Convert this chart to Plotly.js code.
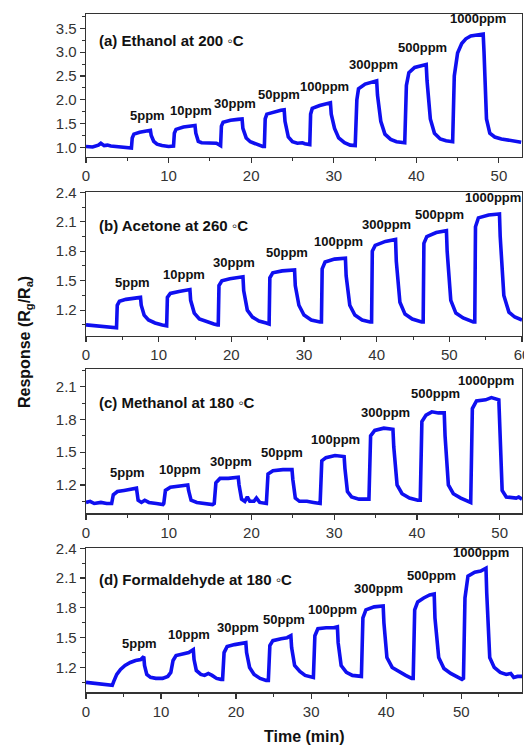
<!DOCTYPE html>
<html>
<head>
<meta charset="utf-8">
<script src="https://cdn.plot.ly/plotly-3.0.1.min.js"></script>
<style>html,body{margin:0;padding:0;background:#fff;}#chart{width:524px;height:746px;}</style>
</head>
<body>
<div id="chart"></div>
<script>
// ---- Data ----
const concLabels = ["5ppm","10ppm","30ppm","50ppm","100ppm","300ppm","500ppm","1000ppm"];
const panelTitles = ["(a) Ethanol at 200 \u25E6C","(b) Acetone at 260 \u25E6C","(c) Methanol at 180 \u25E6C","(d) Formaldehyde at 180 \u25E6C"];

// (a) Ethanol
const timeA = [0,0.8,1.5,1.8,2.2,2.6,3.0,4.0,5.0,5.5,5.6,5.8,6.5,7.3,7.8,7.9,8.2,8.6,9.2,10.0,10.6,10.7,10.9,11.8,12.7,13.2,13.3,13.6,14.0,15.0,15.8,16.3,16.4,16.6,17.5,18.4,18.9,19.0,19.4,19.9,20.6,21.4,21.6,21.7,21.9,22.8,23.6,24.0,24.1,24.5,25.0,25.6,26.2,26.5,26.9,27.1,27.2,27.4,28.3,29.2,29.6,29.7,30.1,30.6,31.3,32.0,32.5,32.6,32.8,33.0,33.8,34.6,35.2,35.3,35.7,36.2,36.9,37.6,38.4,38.6,38.8,39.1,39.8,40.6,41.2,41.3,41.7,42.2,42.9,43.6,44.3,44.4,44.6,45.0,45.5,46.0,46.6,47.4,48.1,48.2,48.5,48.9,49.5,50.3,51.2,52.0,52.7];
const respA = [1.02,1.01,1.05,1.09,1.04,1.05,1.03,1.02,1.00,0.99,1.20,1.28,1.32,1.35,1.36,1.25,1.13,1.07,1.04,1.02,1.03,1.30,1.38,1.43,1.45,1.46,1.30,1.13,1.10,1.10,1.09,1.04,1.45,1.53,1.57,1.59,1.60,1.40,1.20,1.12,1.07,1.02,1.02,1.60,1.70,1.75,1.78,1.79,1.55,1.22,1.12,1.09,1.10,1.08,1.06,1.06,1.70,1.82,1.88,1.92,1.94,1.70,1.40,1.20,1.10,1.05,1.04,1.04,2.00,2.23,2.33,2.38,2.40,2.10,1.55,1.28,1.17,1.12,1.10,1.10,2.30,2.57,2.68,2.72,2.74,2.40,1.60,1.30,1.18,1.14,1.12,1.12,2.50,2.98,3.18,3.28,3.34,3.36,3.38,3.00,1.60,1.30,1.22,1.18,1.15,1.13,1.11];
const labelTimeA = [7.5,12.7,18.0,23.4,28.9,34.8,40.8,47.5];
const labelRespA = [1.47,1.58,1.72,1.91,2.09,2.55,2.89,3.51];

// (b) Acetone
const timeB = [0,1.5,3.0,4.1,4.2,4.3,4.6,5.5,6.7,7.5,7.6,8.0,8.6,9.5,10.5,11.0,11.1,11.2,11.6,12.8,14.3,14.4,14.9,15.6,16.6,17.6,18.1,18.2,18.3,18.7,19.8,21.6,21.7,22.2,22.9,23.8,24.8,25.1,25.2,25.3,25.7,27.0,28.7,28.8,29.3,30.0,31.0,32.2,32.4,32.5,32.9,34.2,35.7,35.8,36.3,37.0,38.0,39.1,39.3,39.4,39.8,41.2,42.6,42.7,43.2,43.9,44.9,46.2,46.4,46.5,46.9,48.2,49.6,49.7,50.2,50.9,51.9,53.3,53.5,53.6,54.0,55.4,56.9,57.0,57.5,58.2,59.0,60.0];
const respB = [1.05,1.04,1.03,1.02,1.02,1.25,1.29,1.31,1.32,1.33,1.25,1.15,1.10,1.07,1.05,1.04,1.04,1.33,1.37,1.39,1.41,1.30,1.17,1.11,1.08,1.06,1.05,1.05,1.45,1.50,1.52,1.54,1.40,1.20,1.13,1.09,1.07,1.06,1.06,1.53,1.58,1.60,1.61,1.45,1.25,1.15,1.10,1.08,1.08,1.62,1.69,1.72,1.73,1.55,1.25,1.15,1.10,1.08,1.08,1.80,1.86,1.90,1.92,1.70,1.28,1.16,1.11,1.08,1.08,1.88,1.95,1.99,2.01,1.80,1.30,1.17,1.12,1.08,1.08,2.05,2.14,2.17,2.18,1.95,1.35,1.18,1.13,1.10];
const labelTimeB = [6.45,13.5,20.4,27.6,34.7,41.3,48.6,56.0];
const labelRespB = [1.39,1.465,1.59,1.69,1.80,1.98,2.08,2.25];

// (c) Methanol
const timeC = [0,0.5,1.0,1.8,2.5,3.0,3.1,3.3,3.8,4.6,5.3,6.0,6.1,6.3,6.7,7.1,7.6,8.5,9.3,9.4,9.6,10.2,11.2,12.3,12.4,12.7,13.4,14.4,15.3,15.5,15.7,16.2,17.2,18.4,18.5,18.8,19.2,19.5,19.8,20.3,20.6,21.0,21.6,21.8,22.0,22.6,23.8,24.9,25.0,25.3,25.8,26.7,27.5,28.2,28.3,28.5,29.0,30.1,31.2,31.3,31.6,32.1,33.0,33.9,34.2,34.4,34.9,36.0,37.1,37.2,37.6,38.2,39.1,40.1,40.4,40.6,41.1,41.8,42.6,43.3,43.4,43.8,44.4,45.3,46.3,46.5,46.7,47.2,48.3,49.0,49.9,50.0,50.3,50.8,51.5,52.0,52.3,52.7];
const respC = [1.04,1.05,1.03,1.04,1.03,1.03,1.03,1.11,1.14,1.15,1.16,1.17,1.17,1.06,1.04,1.06,1.04,1.03,1.02,1.03,1.15,1.18,1.19,1.20,1.15,1.06,1.04,1.03,1.02,1.03,1.22,1.26,1.26,1.27,1.20,1.07,1.05,1.09,1.05,1.05,1.08,1.04,1.03,1.03,1.30,1.33,1.34,1.34,1.25,1.08,1.05,1.05,1.04,1.03,1.03,1.42,1.45,1.47,1.46,1.35,1.14,1.09,1.07,1.07,1.07,1.65,1.70,1.72,1.71,1.55,1.20,1.12,1.08,1.06,1.06,1.78,1.84,1.87,1.86,1.86,1.65,1.20,1.12,1.08,1.05,1.04,1.90,1.97,1.98,2.00,1.98,1.80,1.15,1.09,1.08,1.08,1.09,1.07];
const labelTimeC = [5.07,11.35,17.5,23.7,30.2,36.15,42.3,48.4];
const labelRespC = [1.225,1.255,1.33,1.41,1.53,1.78,1.95,2.07];

// (d) Formaldehyde
const timeD = [0,1.0,2.0,3.0,3.5,3.7,4.1,4.6,5.2,5.9,6.6,7.3,7.7,7.8,8.1,8.6,9.3,10.2,10.9,11.3,11.6,12.0,12.8,13.7,14.3,14.4,14.7,15.3,15.8,16.3,16.8,17.4,18.0,18.2,18.4,18.8,19.8,20.8,21.3,21.4,21.8,22.4,23.2,24.0,24.3,24.5,24.9,26.0,26.8,27.3,27.4,27.8,28.5,29.2,30.0,30.3,30.5,30.9,32.0,33.0,33.5,33.6,34.0,34.7,35.5,36.5,36.7,36.9,37.3,38.4,39.6,39.7,40.1,40.8,41.8,42.6,43.4,43.6,43.8,44.2,45.0,45.8,46.4,46.5,47.0,47.7,48.6,49.5,50.1,50.3,50.5,50.9,51.8,52.6,53.3,53.4,53.8,54.4,55.2,56.0,56.6,57.0,57.5,58.1];
const respD = [1.05,1.04,1.03,1.02,1.02,1.06,1.13,1.18,1.22,1.25,1.27,1.28,1.31,1.22,1.13,1.10,1.09,1.09,1.11,1.15,1.27,1.32,1.33,1.35,1.38,1.28,1.17,1.13,1.12,1.14,1.12,1.09,1.08,1.08,1.35,1.41,1.43,1.44,1.45,1.35,1.20,1.13,1.09,1.07,1.07,1.42,1.47,1.49,1.50,1.52,1.40,1.22,1.16,1.12,1.10,1.10,1.52,1.59,1.60,1.60,1.61,1.45,1.22,1.15,1.12,1.11,1.11,1.70,1.78,1.81,1.82,1.65,1.30,1.20,1.15,1.12,1.09,1.09,1.78,1.86,1.90,1.93,1.94,1.70,1.30,1.19,1.14,1.10,1.08,1.09,1.90,2.12,2.16,2.17,2.20,1.95,1.30,1.20,1.15,1.13,1.14,1.10,1.11,1.11];
const labelTimeD = [7.13,13.7,20.3,26.4,32.8,39.0,46.1,52.7];
const labelRespD = [1.345,1.435,1.51,1.585,1.69,1.90,2.03,2.26];

// ---- Layout helpers ----
const FONT = "Liberation Sans, Arial, Helvetica, sans-serif";
const AX = "#333";
const LINE = "rgb(15,15,240)";

const panels = [
  {t: timeA, r: respA, lt: labelTimeA, lr: labelRespA, xr: [0, 52.8], yr: [0.8, 3.8], ytick0: 1.0, ydtick: 0.5, yminor: 0.25, dom: [0.7895, 0.9812], titleY: 0.813},
  {t: timeB, r: respB, lt: labelTimeB, lr: labelRespB, xr: [0, 60], yr: [0.94, 2.4], ytick0: 1.2, ydtick: 0.3, yminor: 0.15, dom: [0.5500, 0.7422], titleY: 0.772},
  {t: timeC, r: respC, lt: labelTimeC, lr: labelRespC, xr: [0, 52.7], yr: [0.94, 2.26], ytick0: 1.2, ydtick: 0.3, yminor: 0.15, dom: [0.3119, 0.5050], titleY: 0.766},
  {t: timeD, r: respD, lt: labelTimeD, lr: labelRespD, xr: [0, 58.1], yr: [0.95, 2.4], ytick0: 1.2, ydtick: 0.3, yminor: 0.15, dom: [0.0720, 0.2650], titleY: 0.785}
];

const traces = [];
const annotations = [];
const layout = {
  width: 524, height: 746,
  margin: {l: 86, r: 2, t: 0, b: 0},
  paper_bgcolor: "#fff", plot_bgcolor: "#fff",
  showlegend: false,
  font: {family: FONT, color: AX}
};

panels.forEach((p, i) => {
  const n = i === 0 ? "" : String(i + 1);
  const xa = "x" + n, ya = "y" + n;
  traces.push({
    x: p.t, y: p.r, type: "scatter", mode: "lines",
    xaxis: xa, yaxis: ya,
    line: {color: LINE, width: 3.6},
    hoverinfo: "skip"
  });
  layout["xaxis" + n] = {
    anchor: ya, domain: [0, 1], range: p.xr,
    showline: true, mirror: true, linecolor: AX, linewidth: 1.3,
    ticks: "outside", ticklen: 5, tickwidth: 1.2, tickcolor: AX,
    tick0: 0, dtick: 10, ticklabeloverflow: "allow",
    minor: {dtick: 5, ticks: "outside", ticklen: 3, tickwidth: 1, tickcolor: AX, showgrid: false},
    showgrid: false, zeroline: false,
    tickfont: {family: FONT, size: 15, color: AX}
  };
  layout["yaxis" + n] = {
    anchor: xa, domain: p.dom, range: p.yr,
    showline: true, mirror: true, linecolor: AX, linewidth: 1.3,
    ticks: "outside", ticklen: 5, tickwidth: 1.2, tickcolor: AX,
    tick0: p.ytick0, dtick: p.ydtick, tickformat: ".1f",
    minor: {dtick: p.yminor, tick0: p.ytick0, ticks: "outside", ticklen: 3, tickwidth: 1, tickcolor: AX, showgrid: false},
    showgrid: false, zeroline: false,
    tickfont: {family: FONT, size: 15, color: AX}
  };
  annotations.push({
    xref: xa + " domain", yref: ya + " domain",
    x: 0.025, y: p.titleY, xanchor: "left", yanchor: "middle",
    text: "<b>" + panelTitles[i] + "</b>", showarrow: false,
    font: {family: FONT, size: 15, color: "#111"}
  });
  p.lt.forEach((tv, k) => {
    annotations.push({
      xref: xa, yref: ya, x: tv, y: p.lr[k],
      xanchor: "center", yanchor: "bottom",
      text: "<b>" + concLabels[k] + "</b>", showarrow: false,
      font: {family: FONT, size: 13, color: "#111"}
    });
  });
});

annotations.push({
  xref: "paper", yref: "paper", x: 0.5, y: 1 - 736.7 / 746,
  xanchor: "center", yanchor: "middle",
  text: "<b>Time (min)</b>", showarrow: false,
  font: {family: FONT, size: 16, color: "#111"}
});
annotations.push({
  xref: "paper", yref: "paper", x: (25 - 86) / 436, y: 1 - 342 / 746,
  xanchor: "center", yanchor: "middle", textangle: -90,
  text: "<b>Response (R<sub>g</sub>/R<sub>a</sub>)</b>", showarrow: false,
  font: {family: FONT, size: 16, color: "#111"}
});
layout.annotations = annotations;

Plotly.newPlot("chart", traces, layout, {displayModeBar: false, staticPlot: true});
</script>
</body>
</html>
